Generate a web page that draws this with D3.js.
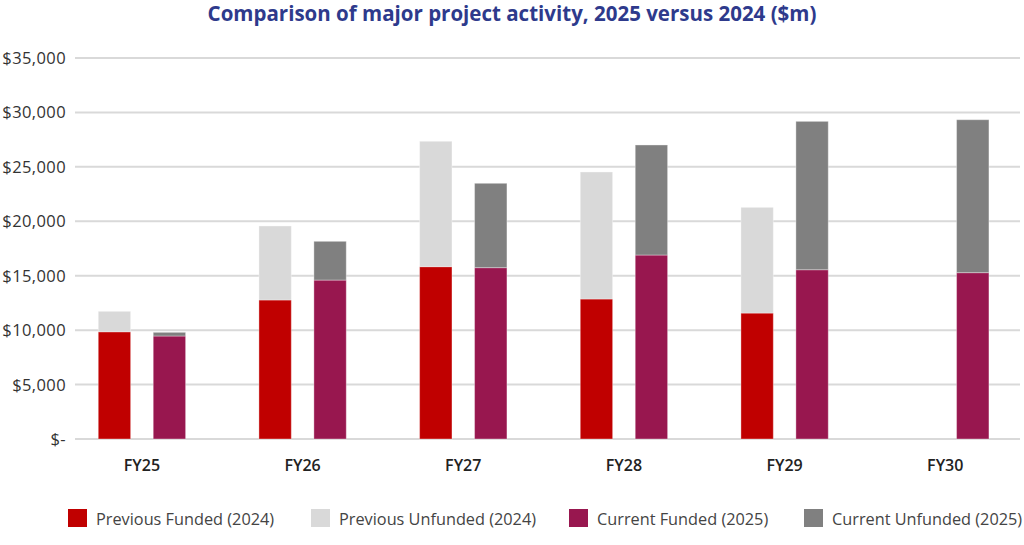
<!DOCTYPE html>
<html>
<head>
<meta charset="utf-8">
<script src="https://cdn.jsdelivr.net/npm/d3@7"></script>
<style>
  html, body { margin: 0; padding: 0; background: #fff; }
  svg { display: block; }
</style>
</head>
<body>
<svg id="chart" width="1024" height="545"></svg>
<script>
const categories = ["FY25", "FY26", "FY27", "FY28", "FY29", "FY30"];
const previousFunded   = [9850, 12770, 15830, 12860, 11570, null];
const previousUnfunded = [1880, 6800, 11520, 11670, 9710, null];
const currentFunded    = [9460, 14600, 15740, 16900, 15550, 15280];
const currentUnfunded  = [340, 3560, 7750, 10110, 13630, 14050];
const yTicks = [0, 5000, 10000, 15000, 20000, 25000, 30000, 35000];
const seriesNames = ["Previous Funded (2024)", "Previous Unfunded (2024)", "Current Funded (2025)", "Current Unfunded (2025)"];
const colors = ["#c00000", "#d9d9d9", "#98174f", "#808080"];

const svg = d3.select("#chart");
const fontFamily = "'Open Sans', 'Noto Sans', sans-serif";

const y = d3.scaleLinear().domain([0, 35000]).range([439, 58]);
const x0 = d3.scaleBand().domain(categories).range([61.6, 1025.6]).paddingInner(0).paddingOuter(0);
const x1 = d3.scaleBand().domain(["prev", "curr"]).range([0, x0.bandwidth()]).paddingInner(0.411).paddingOuter(0.667);

// title
svg.append("text")
  .attr("x", 512).attr("y", 21)
  .attr("text-anchor", "middle")
  .attr("font-family", fontFamily)
  .attr("font-weight", 700)
  .attr("font-size", 20.5)
  .attr("fill", "#2e3a8c")
  .text("Comparison of major project activity, 2025 versus 2024 ($m)");

// gridlines
svg.append("g").selectAll("line").data(yTicks).join("line")
  .attr("x1", 75).attr("x2", 1020)
  .attr("y1", d => y(d)).attr("y2", d => y(d))
  .attr("stroke", "#d9d9d9").attr("stroke-width", 2);

// y labels
const fmt = d3.format(",");
svg.append("g").selectAll("text").data(yTicks).join("text")
  .attr("x", 66).attr("y", d => y(d) + 6)
  .attr("text-anchor", "end")
  .attr("font-family", fontFamily)
  .attr("font-size", 16.5)
  .attr("letter-spacing", 0.4)
  .attr("fill", "#333")
  .text(d => d === 0 ? "$-" : "$" + fmt(d));

// stacked bars
const groups = categories.map((c, i) => ({
  cat: c,
  stacks: [
    { key: "prev", segs: [[previousFunded[i], 0], [previousUnfunded[i], 1]] },
    { key: "curr", segs: [[currentFunded[i], 2], [currentUnfunded[i], 3]] }
  ]
}));

const barG = svg.append("g");
groups.forEach(g => {
  g.stacks.forEach(s => {
    let base = 0;
    s.segs.forEach(([v, ci]) => {
      if (v == null) return;
      const y0 = base, y1v = base + v;
      barG.append("rect")
        .attr("x", x0(g.cat) + x1(s.key))
        .attr("width", x1.bandwidth())
        .attr("y", y(y1v))
        .attr("height", y(y0) - y(y1v))
        .attr("fill", colors[ci])
        .attr("stroke", "rgba(255,255,255,0.35)")
        .attr("stroke-width", 1);
      base = y1v;
    });
  });
});

// x labels
svg.append("g").selectAll("text").data(categories).join("text")
  .attr("x", d => x0(d) + x0.bandwidth() / 2)
  .attr("y", 471)
  .attr("text-anchor", "middle")
  .attr("font-family", fontFamily)
  .attr("font-size", 16)
  .attr("font-weight", 600)
  .attr("fill", "#222")
  .text(d => d);

// legend
const legendX = [68, 311, 569, 804];
const leg = svg.append("g");
seriesNames.forEach((n, i) => {
  leg.append("rect")
    .attr("x", legendX[i]).attr("y", 509)
    .attr("width", 19).attr("height", 18)
    .attr("fill", colors[i]);
  leg.append("text")
    .attr("x", legendX[i] + 28).attr("y", 524.5)
    .attr("font-family", fontFamily)
    .attr("font-size", 16.3)
    .attr("fill", "#444")
    .text(n);
});
</script>
</body>
</html>
